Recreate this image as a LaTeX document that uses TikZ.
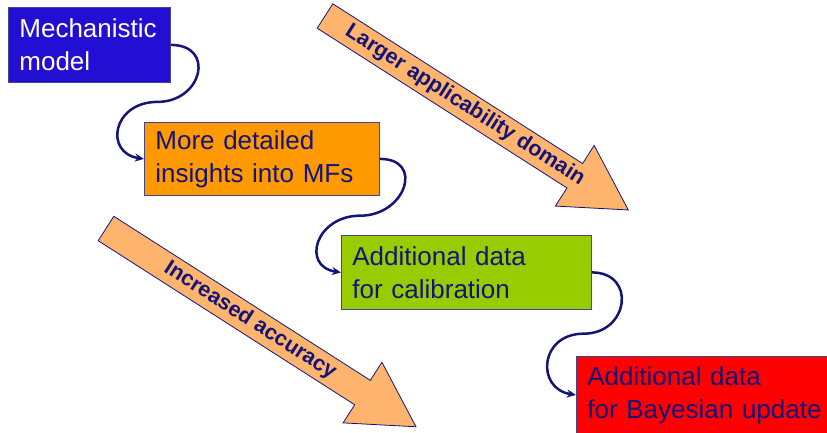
\documentclass[tikz,border=0pt]{standalone}
\usepackage{fontspec}
\setmainfont{Liberation Sans}
\usetikzlibrary{arrows.meta,calc}
\definecolor{navy}{RGB}{20,20,120}
\definecolor{boxline}{RGB}{70,70,140}
\definecolor{mechblue}{RGB}{35,15,212}
\definecolor{detailorange}{RGB}{255,153,0}
\definecolor{calibgreen}{RGB}{153,204,0}
\definecolor{bayesred}{RGB}{255,0,0}
\definecolor{arrowfill}{RGB}{255,180,110}
\begin{document}
\begin{tikzpicture}[x=1pt,y=-1pt,
  box/.style={draw=boxline, line width=0.8pt, anchor=north west, inner xsep=11pt, inner ysep=0pt, align=left, text=navy, font=\fontsize{26}{33}\selectfont},
  link/.style={draw=navy, line width=2.5pt, -{Stealth[length=9pt,width=8pt]}},
  bigarrow/.style={fill=arrowfill, draw=navy, line width=0.8pt, line join=miter},
  arrowtext/.style={text=navy, font=\bfseries\fontsize{21.5}{24}\selectfont}]
\useasboundingbox (0,0) rectangle (827,432);

% big block arrows
\begin{scope}[shift={(325,16)}, rotate=-32.6]
  \draw[bigarrow] (0,-14.5) -- (296.5,-14.5) -- (296.5,-36) -- (360,0) -- (296.5,36) -- (296.5,14.5) -- (0,14.5) -- cycle;
  \node[arrowtext, rotate=-32.6] (tlarger) at (166,0) {Larger applicability domain};
\end{scope}
\begin{scope}[shift={(106,228.5)}, rotate=-32.6]
  \draw[bigarrow] (0,-14.5) -- (304.5,-14.5) -- (304.5,-36) -- (368,0) -- (304.5,36) -- (304.5,14.5) -- (0,14.5) -- cycle;
  \node[arrowtext, rotate=-32.6] (taccur) at (171,0) {Increased accuracy};
\end{scope}

% boxes
\node[box, fill=mechblue, text=white, text width=140pt, minimum height=75pt] (mech) at (8,7) {Mechanistic\\model};
\node[box, fill=detailorange, text width=213pt, minimum height=73pt] (detail) at (144,122) {More detailed\\insights into MFs};
\node[box, fill=calibgreen, text width=228pt, minimum height=74pt] (calib) at (341,235) {Additional data\\for calibration};
\node[box, fill=bayesred, text width=240pt, minimum height=77pt] (bayes) at (576,356) {Additional data\\for Bayesian update};

% connectors
\coordinate (m1) at ($(mech.east)!0.5!(detail.west)$);
\coordinate (m2) at ($(detail.east)!0.5!(calib.west)$);
\coordinate (m3) at ($(calib.east)!0.5!(bayes.west)$);
\draw[link] (mech.east) .. controls +(45,0) and +(45,0) .. (m1) .. controls +(-45,0) and +(-40,-6) .. (detail.west);
\draw[link] (detail.east) .. controls +(45,0) and +(45,0) .. (m2) .. controls +(-45,0) and +(-40,-6) .. (calib.west);
\draw[link] (calib.east) .. controls +(45,0) and +(45,0) .. (m3) .. controls +(-45,0) and +(-40,-6) .. (bayes.west);
\end{tikzpicture}
\end{document}
